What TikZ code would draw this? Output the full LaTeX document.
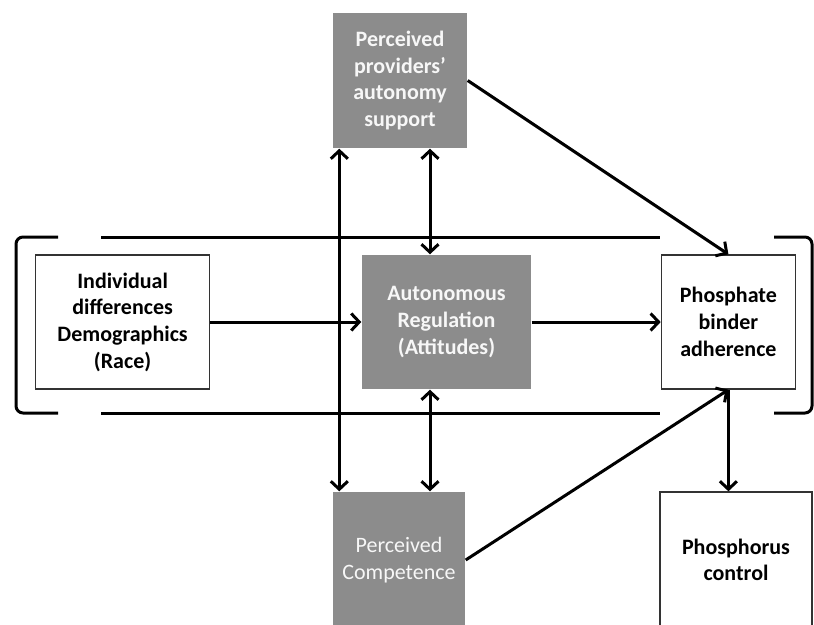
\documentclass[tikz,border=0pt]{standalone}
\usepackage{fontspec}
\setmainfont{Carlito}
\usepackage{tikz}
\usetikzlibrary{arrows.meta, positioning, calc}
\definecolor{boxgray}{HTML}{8C8C8C}

\begin{document}
\begin{tikzpicture}[
    x=1pt, y=-1pt,
    >={Straight Barb[length=8pt, width=17pt]},
    box/.style={draw=black!80, line width=1.4pt, minimum width=134pt, minimum height=134pt, align=center, inner sep=2pt, font=\fontsize{22}{26.7}\selectfont\bfseries},
    gbox/.style={box, draw=none, fill=boxgray, text=gray!6},
    conn/.style={line width=3pt}
]
\useasboundingbox (0,0) rectangle (814,624);
\clip (0,0) rectangle (814,624);

% Middle row
\node[gbox, minimum width=169pt] (autreg) at (446.5,322) {Autonomous\\Regulation\\(Attitudes)};
\node[box, minimum width=174pt, left=151pt of autreg] (indiv) {Individual\\differences\\Demographics\\(Race)};
\node[box, right=129pt of autreg] (adher) {Phosphate\\binder\\adherence};

% Perceived support and competence
\node[gbox, minimum height=135pt] (support) at (400,80.5) {Perceived\\providers’\\autonomy\\support};
\node[gbox, minimum width=132pt, minimum height=136pt, font=\fontsize{22}{26.7}\selectfont] (compet) at (399,560) {Perceived\\Competence};

% Outcome
\node[box, minimum width=152pt, minimum height=136pt] (phos) at (736,560) {Phosphorus\\control};

% Brackets
\draw[conn, rounded corners=7pt] (58,237) -- (16,237) -- (16,413) -- (58,413);
\draw[conn, rounded corners=7pt] (774,237) -- (812,237) -- (812,413) -- (774,413);
\draw[conn] (101,237) -- (660,237);
\draw[conn] (101,413) -- (660,413);

% Arrows
\draw[->, conn] (indiv) -- (autreg);
\draw[->, conn] (autreg) -- (adher);
\draw[->, conn] (support.east) -- (adher.north);
\draw[->, conn] (compet.east) -- (adher.south);
\draw[->, conn] (adher.south) -- (adher.south |- phos.north);
\draw[<->, conn] ($(support.south west)+(7,0)$) -- ($(compet.north west)+(7,0)$);
\coordinate (mid) at ($(support.south)+(30,0)$);
\draw[<->, conn] (mid) -- (mid |- autreg.north);
\draw[<->, conn] (mid |- autreg.south) -- (mid |- compet.north);
\end{tikzpicture}
\end{document}
